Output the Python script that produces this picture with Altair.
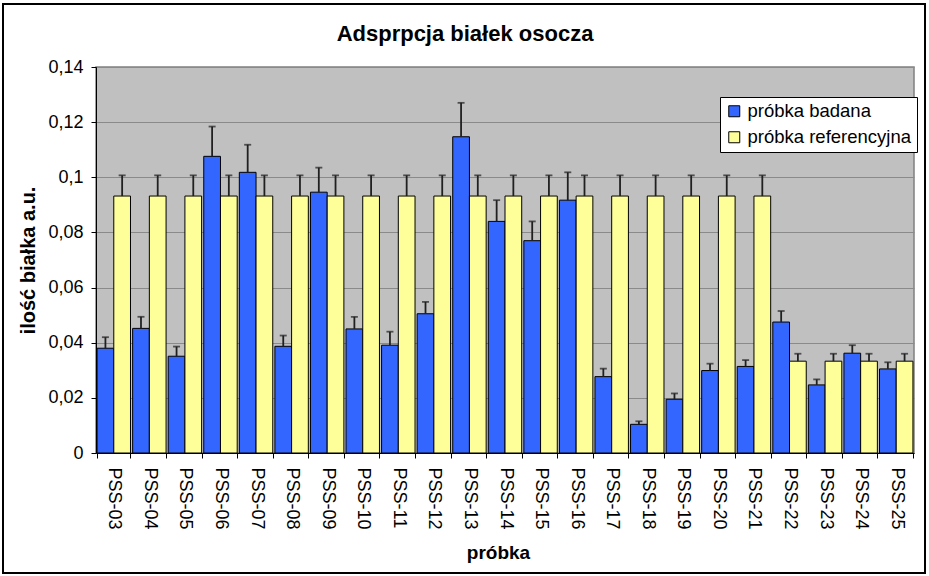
import altair as alt
import pandas as pd

categories = ["PSS-03", "PSS-04", "PSS-05", "PSS-06", "PSS-07", "PSS-08", "PSS-09",
              "PSS-10", "PSS-11", "PSS-12", "PSS-13", "PSS-14", "PSS-15", "PSS-16",
              "PSS-17", "PSS-18", "PSS-19", "PSS-20", "PSS-21", "PSS-22", "PSS-23",
              "PSS-24", "PSS-25"]

series_names = ["próbka badana", "próbka referencyjna"]

badana = [0.0380, 0.0452, 0.0351, 0.1076, 0.1018, 0.0387, 0.0946, 0.0450, 0.0391,
          0.0505, 0.1147, 0.0840, 0.0770, 0.0917, 0.0277, 0.0104, 0.0195, 0.0299,
          0.0314, 0.0475, 0.0247, 0.0362, 0.0305]
badana_err = [0.0040, 0.0042, 0.0035, 0.0108, 0.0100, 0.0039, 0.0089, 0.0044, 0.0049,
              0.0043, 0.0123, 0.0077, 0.0070, 0.0101, 0.0029, 0.0011, 0.0021, 0.0025,
              0.0023, 0.0040, 0.0020, 0.0029, 0.0024]

referencyjna = [0.0932, 0.0932, 0.0932, 0.0932, 0.0932, 0.0932, 0.0932, 0.0932, 0.0932,
                0.0932, 0.0932, 0.0932, 0.0932, 0.0932, 0.0932, 0.0932, 0.0932, 0.0932,
                0.0932, 0.0333, 0.0333, 0.0333, 0.0333]
referencyjna_err = [0.0075, 0.0075, 0.0075, 0.0075, 0.0075, 0.0075, 0.0075, 0.0075, 0.0075,
                    0.0075, 0.0075, 0.0075, 0.0075, 0.0075, 0.0075, 0.0075, 0.0075, 0.0075,
                    0.0075, 0.0027, 0.0027, 0.0027, 0.0027]

y_ticks = [0, 0.02, 0.04, 0.06, 0.08, 0.1, 0.12, 0.14]

chart_title = "Adsprpcja białek osocza"

rows = []
for i, c in enumerate(categories):
    rows.append({"probka": c, "seria": series_names[0], "value": badana[i],
                 "top": badana[i] + badana_err[i]})
    rows.append({"probka": c, "seria": series_names[1], "value": referencyjna[i],
                 "top": referencyjna[i] + referencyjna_err[i]})
df = pd.DataFrame(rows)

FONT = "Liberation Sans"

x_enc = alt.X(
    "probka:N", sort=categories,
    scale=alt.Scale(paddingInner=0.06, paddingOuter=0.03),
    axis=alt.Axis(
        title="próbka", labelAngle=90, labelAlign="left", labelBaseline="middle",
        labelFontSize=18, labelPadding=9, tickSize=5, tickBand="extent",
        domainColor="black", tickColor="black", labelColor="black",
        titleFontSize=19, titleFontWeight="bold", titleColor="black",
        titleX=402, titleY=99, titleAlign="center", titleBaseline="middle",
        grid=False,
    ),
)
xo_enc = alt.XOffset("seria:N", sort=series_names,
                     scale=alt.Scale(paddingInner=0, paddingOuter=0))
y_scale = alt.Scale(domain=[0, 0.14], nice=False)

base = alt.Chart(df)

bars = base.mark_bar(stroke="black", strokeWidth=1).encode(
    x=x_enc,
    xOffset=xo_enc,
    y=alt.Y("value:Q", scale=y_scale,
            axis=alt.Axis(
                values=y_ticks,
                labelExpr="replace(format(datum.value, '~g'), '.', ',')",
                labelFontSize=18, labelPadding=8, tickSize=5,
                domainColor="black", tickColor="black", labelColor="black",
                grid=True, gridColor="#8a8a8a", gridWidth=1,
                title="ilość białka a.u.", titleFontSize=20, titleFontWeight="bold",
                titleColor="black", titleX=-68, titleY=193, titleAngle=270,
                titleAlign="center", titleBaseline="middle",
            )),
    color=alt.Color("seria:N",
                    scale=alt.Scale(domain=series_names, range=["#3366FF", "#FFFF99"]),
                    legend=alt.Legend(
                        title=None, orient="none", legendX=624, legendY=30,
                        fillColor="white", strokeColor="black", padding=5,
                        labelFontSize=18.5, labelColor="black", labelFont=FONT,
                        labelLimit=400,
                        symbolType="square", symbolSize=121,
                        symbolStrokeColor="black", symbolStrokeWidth=1,
                        rowPadding=7, labelOffset=4,
                    )),
)

rules = base.mark_rule(color="#202020", strokeWidth=1.8).encode(
    x=x_enc, xOffset=xo_enc, y=alt.Y("value:Q", scale=y_scale), y2="top:Q",
)

caps = base.mark_tick(color="#202020", thickness=1.8, size=7,
                      orient="horizontal").encode(
    x=x_enc, xOffset=xo_enc, y=alt.Y("top:Q", scale=y_scale),
)

decor = alt.Chart(pd.DataFrame({"t": [chart_title]}))

frame = decor.mark_rect(
    fillOpacity=0, stroke="black", strokeWidth=2
).encode(
    x=alt.value(-93), x2=alt.value(829), y=alt.value(-63), y2=alt.value(506),
)

title_text = decor.mark_text(
    font=FONT, fontSize=22, fontWeight="bold", color="black",
    align="center", baseline="alphabetic",
).encode(
    text="t:N", x=alt.value(369), y=alt.value(-26),
)

chart = alt.layer(bars, rules, caps, frame, title_text).properties(
    width=818, height=386,
    autosize="none",
    padding={"left": 96, "top": 67, "right": 15, "bottom": 123},
    background="white",
).configure_axis(
    labelFont=FONT, titleFont=FONT,
).configure_legend(
    labelFont=FONT,
).configure_view(
    fill="#C0C0C0", stroke="#808080", strokeWidth=1.5,
)

chart.save("out.html", embed_options={"renderer": "svg", "actions": False})
